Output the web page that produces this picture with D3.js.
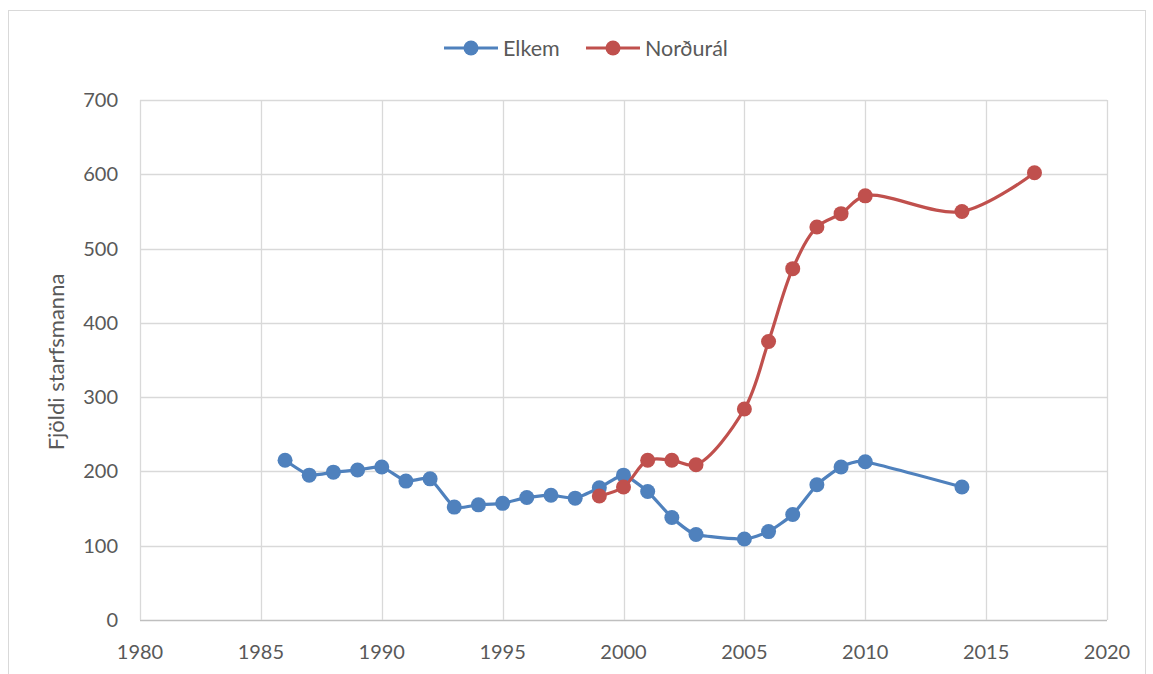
<!DOCTYPE html>
<html>
<head>
<meta charset="utf-8">
<script src="https://cdn.jsdelivr.net/npm/d3@7"></script>
<style>
  body { margin: 0; background: #fff; }
  text { font-family: Lato, "Open Sans", sans-serif; fill: #595959; }
</style>
</head>
<body>
<svg id="chart"></svg>
<script>
// years and staff numbers
var elkemYears = [1986,1987,1988,1989,1990,1991,1992,1993,1994,1995,1996,1997,1998,1999,2000,2001,2002,2003,2005,2006,2007,2008,2009,2010,2014];
var elkemValues = [215,195,199,202,206,187,190,152,155,157,165,168,164,178,195,173,138,115,109,119,142,182,206,213,179];
var nordYears = [1999,2000,2001,2002,2003,2005,2006,2007,2008,2009,2010,2014,2017];
var nordValues = [167,179,215,215,209,284,375,473,529,547,571,550,602];
var xTicks = [1980,1985,1990,1995,2000,2005,2010,2015,2020];
var yTicks = [0,100,200,300,400,500,600,700];

var width = 1153, height = 674;
var svg = d3.select('#chart').attr('width', width).attr('height', height);

// chart frame
svg.append('rect')
    .attr('x', 8.5).attr('y', 10.5)
    .attr('width', 1137).attr('height', 700)
    .attr('fill', 'none').attr('stroke', '#d9d9d9');

var x = d3.scaleLinear().domain([1980, 2020]).range([140, 1107]);
var y = d3.scaleLinear().domain([0, 700]).range([620, 100]);

var g = svg.append('g');

// gridlines
g.selectAll('.hgrid').data(yTicks).enter().append('line')
    .attr('x1', x(1980)).attr('x2', x(2020))
    .attr('y1', function (d) { return Math.round(y(d)) + 0.5; })
    .attr('y2', function (d) { return Math.round(y(d)) + 0.5; })
    .attr('stroke', function (d) { return d == 0 ? '#bfbfbf' : '#d9d9d9'; })
    .attr('stroke-width', 1.3);

g.selectAll('.vgrid').data(xTicks).enter().append('line')
    .attr('y1', y(0)).attr('y2', y(700))
    .attr('x1', function (d) { return Math.round(x(d)) + 0.5; })
    .attr('x2', function (d) { return Math.round(x(d)) + 0.5; })
    .attr('stroke', '#d9d9d9')
    .attr('stroke-width', 1.3);

// tick labels
g.selectAll('.ylab').data(yTicks).enter().append('text')
    .attr('x', 118).attr('y', function (d) { return y(d) + 7; })
    .attr('text-anchor', 'end')
    .style('font-size', '20px')
    .text(function (d) { return d; });

g.selectAll('.xlab').data(xTicks).enter().append('text')
    .attr('x', function (d) { return x(d); }).attr('y', 659)
    .attr('text-anchor', 'middle')
    .style('font-size', '20px')
    .text(function (d) { return d; });

svg.append('text')
    .attr('transform', 'translate(64,362) rotate(-90)')
    .attr('text-anchor', 'middle')
    .style('font-size', '22px')
    .text('Fjöldi starfsmanna');

var series = [
    { name: 'Elkem', years: elkemYears, values: elkemValues, color: '#4f81bd', curve: d3.curveCardinal.tension(0.5) },
    { name: 'Norðurál', years: nordYears, values: nordValues, color: '#c0504d', curve: d3.curveCatmullRom.alpha(0.5) }
];

series.forEach(function (s) {
    var pts = d3.zip(s.years, s.values);
    var line = d3.line()
        .x(function (d) { return x(d[0]); })
        .y(function (d) { return y(d[1]); })
        .curve(s.curve);
    g.append('path')
        .attr('d', line(pts))
        .attr('fill', 'none')
        .attr('stroke', s.color)
        .attr('stroke-width', 3.2)
        .attr('stroke-linejoin', 'round');
    g.selectAll(null).data(pts).enter().append('circle')
        .attr('cx', function (d) { return x(d[0]); })
        .attr('cy', function (d) { return y(d[1]); })
        .attr('r', 7.5)
        .attr('fill', s.color);
});

// legend
var legendX = [444, 586];
var leg = svg.selectAll('.leg').data(series).enter().append('g')
    .attr('transform', function (d, i) { return 'translate(' + legendX[i] + ',48)'; });
leg.append('line')
    .attr('x1', 0).attr('x2', 54)
    .attr('stroke', function (d) { return d.color; })
    .attr('stroke-width', 3.2);
leg.append('circle')
    .attr('cx', 27).attr('r', 7.5)
    .attr('fill', function (d) { return d.color; });
leg.append('text')
    .attr('x', 59).attr('y', 7.5)
    .style('font-size', '21.5px')
    .text(function (d) { return d.name; });
</script>
</body>
</html>
